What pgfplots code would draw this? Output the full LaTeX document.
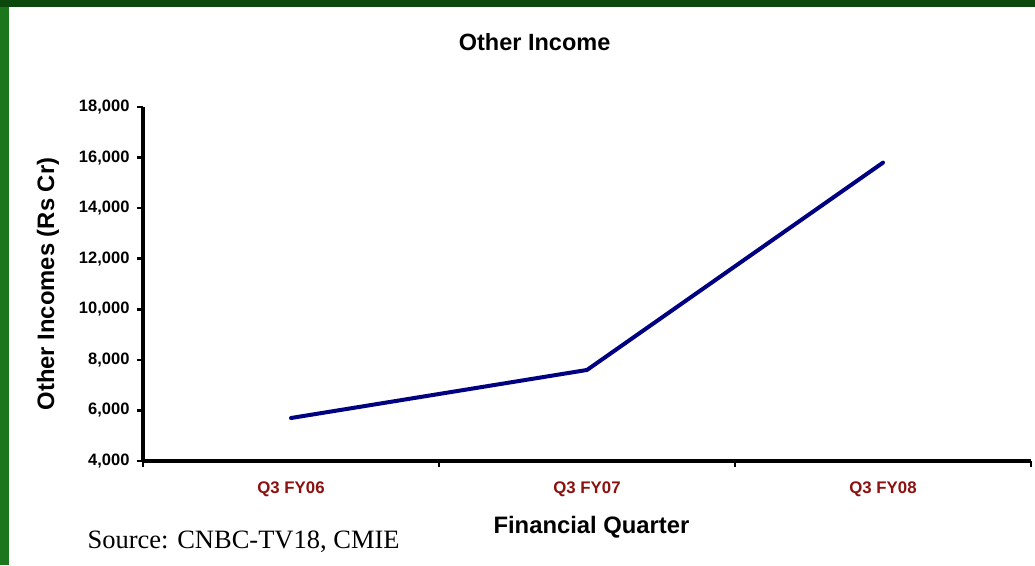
\documentclass[border=0pt]{standalone}
\usepackage{fontspec}
\setmainfont{Liberation Sans}
\newfontfamily\srcfont{Liberation Serif}
\usepackage{pgfplots}
\pgfplotsset{compat=1.18}
\definecolor{navyline}{RGB}{0,0,128}
\definecolor{catred}{RGB}{140,16,16}
\definecolor{bgdark}{RGB}{12,72,12}
\definecolor{bgleft}{RGB}{28,118,28}
\begin{document}
\begin{tikzpicture}[x=1pt,y=1pt]
\fill[bgleft] (0,0) rectangle (1035,565);
\fill[bgdark] (0,558) rectangle (1035,565);
\fill[white] (9,0) rectangle (1035,558);
\begin{axis}[
  at={(143pt,104pt)}, anchor=south west,
  scale only axis, width=888pt, height=354pt,
  xmin=-0.5, xmax=2.5, ymin=4000, ymax=18000,
  axis lines=left,
  axis line style={-, line width=4pt, black},
  xtick={-0.5,0.5,1.5,2.5},
  x tick label as interval,
  xticklabels={Q3 FY06,Q3 FY07,Q3 FY08},
  ytick={4000,6000,8000,10000,12000,14000,16000,18000},
  scaled y ticks=false,
  tick align=outside,
  major tick length=6pt,
  tick style={line width=2.5pt, black},
  yticklabel style={font=\fontsize{16.5}{16.5}\selectfont\bfseries, xshift=-4pt,
    /pgf/number format/.cd, fixed, 1000 sep={,}, assume math mode=true},
  xticklabel style={font=\fontsize{16.8}{16.8}\selectfont\bfseries, text=catred, yshift=-11pt},
  title={Other Income},
  title style={at={(axis description cs:0.441,1.167)}, anchor=center, font=\fontsize{23.5}{23.5}\selectfont\bfseries},
  xlabel={Financial Quarter},
  xlabel style={at={(axis description cs:0.505,-0.186)}, anchor=center, font=\fontsize{23.8}{23.8}\selectfont\bfseries},
  ylabel={Other Incomes (Rs Cr)},
  ylabel style={at={(axis description cs:-0.107,0.5)}, rotate=0, anchor=center, font=\fontsize{23.8}{23.8}\selectfont\bfseries},
  clip=false,
]
\addplot[navyline, line width=4pt, line cap=round, line join=round] coordinates {(0,5700) (1,7600) (2,15800)};
\end{axis}
\node[anchor=base west, font=\srcfont\fontsize{26.5}{26.5}\selectfont] at (84,17) {Source: CNBC-TV18, CMIE};
\pgfresetboundingbox
\path[use as bounding box] (0,0) rectangle (1035,565);
\end{tikzpicture}
\end{document}
